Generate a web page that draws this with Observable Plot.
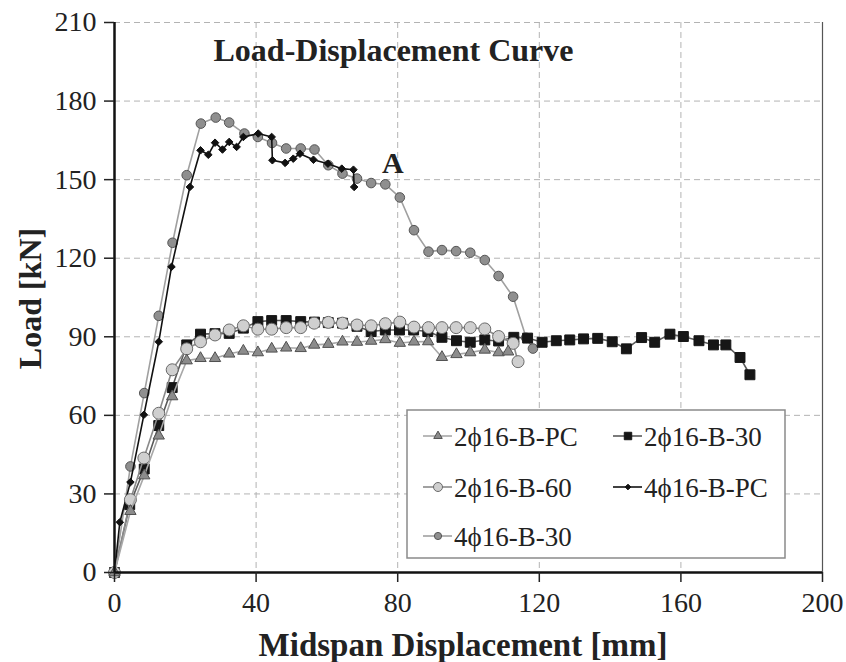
<!DOCTYPE html>
<html>
<head>
<meta charset="utf-8">
<script src="https://cdn.jsdelivr.net/npm/d3@7"></script>
<script src="https://cdn.jsdelivr.net/npm/@observablehq/plot@0.6"></script>
<style>
  html, body { margin: 0; padding: 0; background: white; }
</style>
</head>
<body>
<div id="chart"></div>
<script>
// ---- data ----
const seriesNames = ["2ϕ16-B-PC", "2ϕ16-B-30", "2ϕ16-B-60", "4ϕ16-B-PC", "4ϕ16-B-30"];

const x2PC = [0,4.5,8.4,12.5,16.3,20.4,24.3,28.4,32.4,36.4,40.5,44.4,48.5,52.6,56.4,60.4,64.4,68.5,72.5,76.5,80.6,84.6,88.6,92.5,96.6,100.5,104.6,108.5,111.2];
const y2PC = [0,23.4,37,52.2,67.2,80.9,81.8,81.8,83.5,84.6,84,85.4,85.8,85.6,86.9,87.2,88.1,88,88.4,89,87.6,88.1,88.2,82.2,83.3,84,85,84,84.3];

const x2B30 = [0,4.3,8.4,12.5,16.3,20.4,24.3,28.4,32.4,36.4,40.5,44.4,48.5,52.6,56.5,60.4,64.4,68.5,72.5,76.5,80.5,84.5,88.5,92.5,96.6,100.5,104.6,108.5,112.8,116.7,120.8,124.8,128.6,132.5,136.5,140.6,144.6,148.9,152.6,156.9,160.7,165.1,169.2,172.7,176.7,179.5];
const y2B30 = [0,25.9,39.5,56.1,70.6,86.9,91,91.2,91.3,93.3,95.8,96.2,96.2,95.8,95.6,95.4,95.2,94,92,92.6,92.6,92.6,92,89.8,88.5,87.9,88.8,88.4,89.8,89.5,87.9,88.5,88.8,89.2,89.4,88.1,85.4,89.7,87.9,91,90.1,88.5,86.9,86.9,82.1,75.5];

const x2B60 = [0,4.5,8.3,12.5,16.3,20.4,24.3,28.4,32.4,36.4,40.5,44.4,48.5,52.6,56.4,60.4,64.4,68.5,72.5,76.5,80.6,84.6,88.7,92.5,96.5,100.5,104.6,108.5,112.6,114];
const y2B60 = [0,27.8,43.7,60.8,77.4,85.4,88.1,90.7,92.6,94.2,92.9,92.9,93.5,93.5,95.2,95.5,95.2,94.5,94.2,95,95.6,93.7,93.5,93.5,93.5,93.5,93,90.1,87.5,80.5];

const x4PC = [0,1.5,4.5,8.3,12.5,16.1,21.3,24.3,26.5,28.4,30.5,32.4,34.5,36.4,40.6,44.4,44.6,48.2,50.5,52.4,56.2,60.3,64.2,67.5,67.7];
const y4PC = [0,19.2,34.5,60.2,88.1,116.7,147.2,161.2,159.5,164.1,161.5,164.4,162.5,166.3,167.6,166.3,157.4,156.4,158,159.9,157.6,156.1,154.2,153.8,147.2];

const x4B30 = [0,4.5,8.4,12.5,16.4,20.4,24.4,28.6,32.4,36.7,40.5,44.5,48.5,52.6,56.5,60.4,64.4,68.5,72.5,76.5,80.6,84.6,88.7,92.5,96.5,100.5,104.6,108.5,112.6,116.3,118.2];
const y4B30 = [0,40.5,68.5,98,125.9,151.7,171.4,173.7,171.8,167.6,166.3,164,161.9,161.9,161.5,155.5,152.3,150.4,148.7,148.2,143.2,130.7,122.5,123.1,122.7,122.1,119.3,113.2,105.3,89.6,85.5];

const xTicks = [0,40,80,120,160,200];
const yTicks = [0,30,60,90,120,150,180,210];
const xGridLines = [40,80,120,160];
const yGridLines = [30,60,90,120,150,180,210];

const titleText = "Load-Displacement Curve";
const xLabel = "Midspan Displacement [mm]";
const yLabel = "Load [kN]";
const annX = [78.6];
const annY = [152.4];
const annText = ["A"];

// ---- styles per series ----
const styles = {
  "2ϕ16-B-PC": {symbol: "triangle", r: 4.2, fill: "#8c8c8c", stroke: "#505050", line: "#a8a8a8"},
  "2ϕ16-B-30": {symbol: "square",   r: 5.6, fill: "#161616", stroke: "#161616", line: "#5a5a5a"},
  "2ϕ16-B-60": {symbol: "circle",   r: 6,   fill: "#cfcfcf", stroke: "#6a6a6a", line: "#8a8a8a"},
  "4ϕ16-B-PC": {symbol: "diamond2", r: 3.4, fill: "#111111", stroke: "#111111", line: "#111111"},
  "4ϕ16-B-30": {symbol: "circle",   r: 4.8, fill: "#8f8f8f", stroke: "#555555", line: "#a0a0a0"}
};

function rows(xs, ys) { return xs.map((x, i) => ({x, y: ys[i]})); }
const data = {
  "2ϕ16-B-PC": rows(x2PC, y2PC),
  "2ϕ16-B-30": rows(x2B30, y2B30),
  "2ϕ16-B-60": rows(x2B60, y2B60),
  "4ϕ16-B-PC": rows(x4PC, y4PC),
  "4ϕ16-B-30": rows(x4B30, y4B30)
};
const drawOrder = ["4ϕ16-B-30", "4ϕ16-B-PC", "2ϕ16-B-30", "2ϕ16-B-60", "2ϕ16-B-PC"];

const seriesMarks = drawOrder.flatMap(name => {
  const s = styles[name];
  return [
    Plot.line(data[name], {x: "x", y: "y", stroke: s.line, strokeWidth: 1.6}),
    Plot.dot(data[name], {x: "x", y: "y", symbol: () => s.symbol, r: s.r, fill: s.fill, stroke: s.stroke, strokeWidth: 1})
  ];
});

const serif = "'Liberation Serif', 'DejaVu Serif', serif";

const svg = Plot.plot({
  width: 846,
  height: 662,
  marginLeft: 114,
  marginRight: 24,
  marginTop: 22,
  marginBottom: 90,
  x: {domain: [0, 200]},
  y: {domain: [0, 210]},
  style: {fontFamily: serif, fontSize: "28px", color: "#222", background: "white", overflow: "visible"},
  marks: [
    Plot.gridX(xGridLines, {stroke: "#b3b3b3", strokeOpacity: 1, strokeDasharray: "6,4"}),
    Plot.gridY(yGridLines, {stroke: "#b3b3b3", strokeOpacity: 1, strokeDasharray: "6,4"}),
    Plot.ruleX([200], {stroke: "#555", strokeWidth: 1.2}),
    ...seriesMarks,
    Plot.ruleX([0], {stroke: "#111", strokeWidth: 2.5}),
    Plot.ruleY([0], {stroke: "#111", strokeWidth: 2.5}),
    Plot.axisX(xTicks, {tickSize: 10, tickPadding: 10, strokeWidth: 1.5, label: null, fontSize: 28}),
    Plot.axisY(yTicks, {tickSize: 10, tickPadding: 8, strokeWidth: 1.5, label: null, fontSize: 28}),
    Plot.text([titleText], {frameAnchor: "top-left", dx: 99, dy: 38, textAnchor: "start", lineAnchor: "bottom", fontSize: 32, fontWeight: "bold", fill: "#222"}),
    Plot.text(annText, {x: annX, y: annY, text: d => d, fontSize: 30, fontWeight: "bold", lineAnchor: "bottom", fill: "#222"}),
    Plot.text([xLabel], {frameAnchor: "bottom", dx: -5.5, dy: 83, lineAnchor: "bottom", fontSize: 33, fontWeight: "bold", fill: "#222"}),
    Plot.text([yLabel], {frameAnchor: "left", dx: -74, dy: 1, rotate: -90, textAnchor: "middle", lineAnchor: "bottom", fontSize: 32, fontWeight: "bold", fill: "#222"})
  ]
});

// ---- legend box (drawn inside the plot's svg) ----
const legendBox = {x: 407, y: 410, w: 378, h: 148};
const legendItems = [
  {name: "2ϕ16-B-PC", col: 0, row: 0},
  {name: "2ϕ16-B-30", col: 1, row: 0},
  {name: "2ϕ16-B-60", col: 0, row: 1},
  {name: "4ϕ16-B-PC", col: 1, row: 1},
  {name: "4ϕ16-B-30", col: 0, row: 2}
];
const colX = [423, 613];
const rowY = [436, 487, 536];
const symbolMap = {triangle: d3.symbolTriangle, square: d3.symbolSquare, circle: d3.symbolCircle, diamond2: d3.symbolDiamond2};

const g = d3.select(svg).append("g").attr("class", "legend").attr("text-anchor", "start");
g.append("rect").attr("x", legendBox.x).attr("y", legendBox.y).attr("width", legendBox.w).attr("height", legendBox.h)
  .attr("fill", "white").attr("stroke", "#8a8a8a").attr("stroke-width", 1.5);
legendItems.forEach(it => {
  const s = styles[it.name];
  const x0 = colX[it.col], y0 = rowY[it.row];
  g.append("line").attr("x1", x0).attr("x2", x0 + 29).attr("y1", y0).attr("y2", y0)
    .attr("stroke", s.line).attr("stroke-width", 1.6);
  const rr = s.r * 0.75;
  g.append("path").attr("d", d3.symbol(symbolMap[s.symbol], Math.PI * rr * rr)())
    .attr("transform", `translate(${x0 + 15},${y0})`)
    .attr("fill", s.fill).attr("stroke", s.stroke).attr("stroke-width", 1);
  g.append("text").attr("x", x0 + 31).attr("y", y0 + 10)
    .attr("text-anchor", "start")
    .attr("font-family", serif).attr("font-size", 27).attr("fill", "#222")
    .text(it.name);
});

document.getElementById("chart").appendChild(svg);
</script>
</body>
</html>
